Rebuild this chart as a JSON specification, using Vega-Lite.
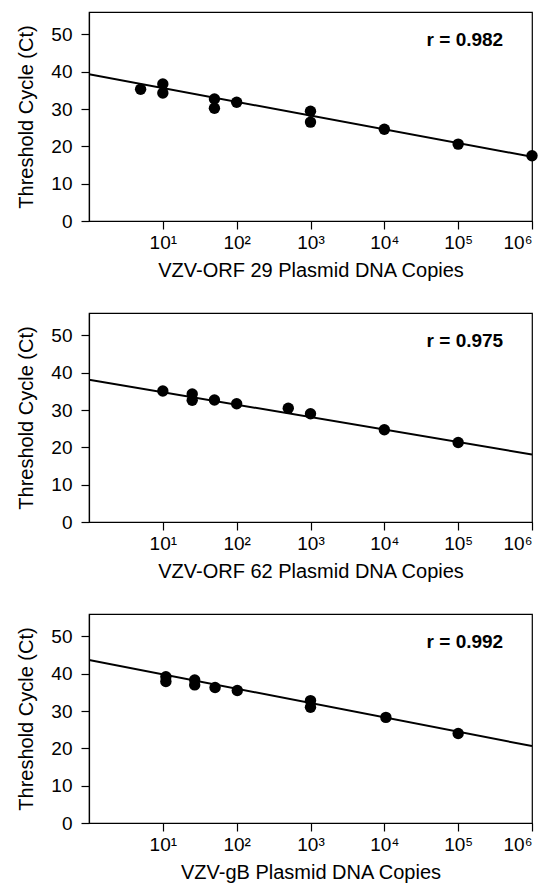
{
  "$schema": "https://vega.github.io/schema/vega-lite/v6.json",
  "padding": {"left": 16, "top": 11, "right": 12, "bottom": 2},
  "spacing": 31,
  "datasets": {
    "orf29": [
      {"copies": 5, "ct": 35.3}, {"copies": 10, "ct": 36.7}, {"copies": 10, "ct": 34.3},
      {"copies": 50, "ct": 32.7}, {"copies": 50, "ct": 30.2}, {"copies": 100, "ct": 31.8},
      {"copies": 1000, "ct": 29.4}, {"copies": 1000, "ct": 26.5}, {"copies": 10000, "ct": 24.6},
      {"copies": 100000, "ct": 20.6}, {"copies": 1000000, "ct": 17.5}
    ],
    "orf29fit": [{"copies": 1, "ct": 39.3}, {"copies": 1000000, "ct": 17.2}],
    "orf62": [
      {"copies": 10, "ct": 35.1}, {"copies": 25, "ct": 34.3}, {"copies": 25, "ct": 32.6},
      {"copies": 50, "ct": 32.7}, {"copies": 100, "ct": 31.7}, {"copies": 500, "ct": 30.5},
      {"copies": 1000, "ct": 29.0}, {"copies": 10000, "ct": 24.7}, {"copies": 100000, "ct": 21.3}
    ],
    "orf62fit": [{"copies": 1, "ct": 38.1}, {"copies": 1000000, "ct": 18.1}],
    "gb": [
      {"copies": 11, "ct": 39.2}, {"copies": 11, "ct": 37.9}, {"copies": 27, "ct": 38.3},
      {"copies": 27, "ct": 37.0}, {"copies": 51, "ct": 36.3}, {"copies": 102, "ct": 35.5},
      {"copies": 1000, "ct": 32.8}, {"copies": 1000, "ct": 31.0}, {"copies": 10500, "ct": 28.3},
      {"copies": 100000, "ct": 24.0}
    ],
    "gbfit": [{"copies": 1, "ct": 43.7}, {"copies": 1000000, "ct": 20.6}]
  },
  "vconcat": [
    {
      "width": 443, "height": 209,
      "layer": [
        {"data": {"name": "orf29fit"}, "mark": {"type": "line", "color": "black", "strokeWidth": 2, "clip": true},
         "encoding": {
           "x": {"field": "copies", "type": "quantitative", "scale": {"type": "log", "domain": [1, 1000000]}, "axis": {"values": [10, 100, 1000, 10000, 100000, 1000000], "labelExpr": "'10' + ['⁰','¹','²','³','⁴','⁵','⁶'][round(log(datum.value)/LN10)]"}, "title": "VZV-ORF 29 Plasmid DNA Copies"},
           "y": {"field": "ct", "type": "quantitative", "scale": {"domain": [0, 56], "nice": false}, "axis": {"values": [0, 10, 20, 30, 40, 50]}, "title": "Threshold Cycle (Ct)"}
         }},
        {"data": {"name": "orf29"}, "mark": {"type": "point", "filled": true, "color": "black", "opacity": 1, "size": 130},
         "encoding": {"x": {"field": "copies", "type": "quantitative"}, "y": {"field": "ct", "type": "quantitative"}}},
        {"data": {"values": [{"label": "r = 0.982"}]}, "mark": {"type": "text", "align": "right", "baseline": "middle", "fontWeight": "bold", "fontSize": 19, "color": "black"},
         "encoding": {"x": {"datum": 407000}, "y": {"datum": 48.6}, "text": {"field": "label"}}}
      ]
    },
    {
      "width": 443, "height": 209,
      "layer": [
        {"data": {"name": "orf62fit"}, "mark": {"type": "line", "color": "black", "strokeWidth": 2, "clip": true},
         "encoding": {
           "x": {"field": "copies", "type": "quantitative", "scale": {"type": "log", "domain": [1, 1000000]}, "axis": {"values": [10, 100, 1000, 10000, 100000, 1000000], "labelExpr": "'10' + ['⁰','¹','²','³','⁴','⁵','⁶'][round(log(datum.value)/LN10)]"}, "title": "VZV-ORF 62 Plasmid DNA Copies"},
           "y": {"field": "ct", "type": "quantitative", "scale": {"domain": [0, 56], "nice": false}, "axis": {"values": [0, 10, 20, 30, 40, 50]}, "title": "Threshold Cycle (Ct)"}
         }},
        {"data": {"name": "orf62"}, "mark": {"type": "point", "filled": true, "color": "black", "opacity": 1, "size": 130},
         "encoding": {"x": {"field": "copies", "type": "quantitative"}, "y": {"field": "ct", "type": "quantitative"}}},
        {"data": {"values": [{"label": "r = 0.975"}]}, "mark": {"type": "text", "align": "right", "baseline": "middle", "fontWeight": "bold", "fontSize": 19, "color": "black"},
         "encoding": {"x": {"datum": 407000}, "y": {"datum": 48.5}, "text": {"field": "label"}}}
      ]
    },
    {
      "width": 443, "height": 209,
      "layer": [
        {"data": {"name": "gbfit"}, "mark": {"type": "line", "color": "black", "strokeWidth": 2, "clip": true},
         "encoding": {
           "x": {"field": "copies", "type": "quantitative", "scale": {"type": "log", "domain": [1, 1000000]}, "axis": {"values": [10, 100, 1000, 10000, 100000, 1000000], "labelExpr": "'10' + ['⁰','¹','²','³','⁴','⁵','⁶'][round(log(datum.value)/LN10)]"}, "title": "VZV-gB Plasmid DNA Copies"},
           "y": {"field": "ct", "type": "quantitative", "scale": {"domain": [0, 56], "nice": false}, "axis": {"values": [0, 10, 20, 30, 40, 50]}, "title": "Threshold Cycle (Ct)"}
         }},
        {"data": {"name": "gb"}, "mark": {"type": "point", "filled": true, "color": "black", "opacity": 1, "size": 130},
         "encoding": {"x": {"field": "copies", "type": "quantitative"}, "y": {"field": "ct", "type": "quantitative"}}},
        {"data": {"values": [{"label": "r = 0.992"}]}, "mark": {"type": "text", "align": "right", "baseline": "middle", "fontWeight": "bold", "fontSize": 19, "color": "black"},
         "encoding": {"x": {"datum": 407000}, "y": {"datum": 48.6}, "text": {"field": "label"}}}
      ]
    }
  ],
  "config": {
    "font": "Liberation Sans",
    "background": "white",
    "view": {"stroke": "black", "strokeWidth": 1.2},
    "axis": {
      "grid": false, "domainColor": "black", "domainWidth": 1.2, "tickColor": "black", "tickWidth": 1.2, "tickSize": 8,
      "labelColor": "black", "titleColor": "black", "labelFontSize": 19, "titleFontSize": 20,
      "titleFontWeight": "normal", "labelFont": "Liberation Sans", "titleFont": "Liberation Sans"
    },
    "axisY": {"labelPadding": 9, "titlePadding": 14},
    "axisX": {"labelPadding": 4, "titlePadding": 8}
  }
}
